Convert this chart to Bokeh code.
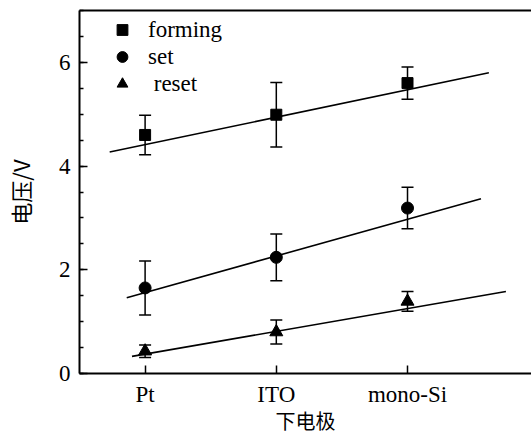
from bokeh.plotting import figure
from bokeh.models import (ColumnDataSource, Whisker, TeeHead, FixedTicker,
                          Legend, LegendItem, Range1d, LinearAxis)
from bokeh.embed import file_html
from bokeh.resources import INLINE

# ---- data ----
categories = ["Pt", "ITO", "mono-Si"]
xpos = [1, 2, 3]

forming = [4.60, 4.99, 5.60]
forming_err = [0.38, 0.62, 0.31]
set_v = [1.65, 2.24, 3.19]
set_err = [0.52, 0.45, 0.40]
reset = [0.43, 0.80, 1.39]
reset_err = [0.12, 0.23, 0.19]

forming_fit_x = [0.73, 3.62]
forming_fit_y = [4.27, 5.80]
set_fit_x = [0.86, 3.56]
set_fit_y = [1.46, 3.37]
reset_fit_x = [0.90, 3.75]
reset_fit_y = [0.33, 1.58]

y_ticks = [0, 2, 4, 6]

SERIF = "Liberation Serif"
CJK = "Noto Sans CJK SC"

p = figure(width=531, height=437, output_backend="svg", toolbar_location=None,
           x_range=Range1d(0.5, 3.945), y_range=Range1d(0, 7),
           min_border_left=78, min_border_right=0, min_border_top=10,
           min_border_bottom=62)
p.outline_line_color = None
p.grid.visible = False
p.background_fill_color = "white"
p.border_fill_color = "white"

# top border as a bare axis
top = LinearAxis(ticker=FixedTicker(ticks=[]), axis_line_width=2, axis_line_color="black",
                 major_tick_line_color=None, minor_tick_line_color=None,
                 major_label_standoff=0,
                 major_tick_in=0, major_tick_out=0, minor_tick_in=0, minor_tick_out=0)
p.add_layout(top, "above")

xa = p.below[0]
ya = p.left[0]
xa.ticker = FixedTicker(ticks=xpos)
xa.major_label_overrides = {x: c for x, c in zip(xpos, categories)}
ya.ticker = FixedTicker(ticks=y_ticks, minor_ticks=[i * 0.5 for i in range(15)])
for ax in (xa, ya):
    ax.axis_line_width = 2
    ax.axis_line_color = "black"
    ax.major_tick_in = 8
    ax.major_tick_out = 0
    ax.minor_tick_in = 4
    ax.minor_tick_out = 0
    ax.major_tick_line_width = 1.5
    ax.minor_tick_line_width = 1.5
    ax.major_label_text_font = SERIF
    ax.major_label_text_font_size = "23px"
    ax.major_label_text_color = "black"
    ax.axis_label_text_font = CJK
    ax.axis_label_text_font_size = "20px"
    ax.axis_label_text_font_style = "normal"
    ax.axis_label_text_color = "black"
xa.minor_tick_line_color = None
xa.major_label_standoff = 8
ya.major_label_standoff = 9
xa.axis_label = "下电极"
ya.axis_label = "电压/V"
xa.axis_label_standoff = -4
ya.axis_label_standoff = 20
ya.axis_label_text_font_size = "22px"

# fit lines
for fx, fy in ((forming_fit_x, forming_fit_y), (set_fit_x, set_fit_y), (reset_fit_x, reset_fit_y)):
    p.line(fx, fy, line_color="black", line_width=1.6)

renderers = []
for vals, errs, marker, size in ((forming, forming_err, "square", 11),
                                 (set_v, set_err, "circle", 12),
                                 (reset, reset_err, "triangle", 13)):
    src = ColumnDataSource(dict(x=xpos, y=vals,
                                upper=[v + e for v, e in zip(vals, errs)],
                                lower=[v - e for v, e in zip(vals, errs)]))
    w = Whisker(base="x", upper="upper", lower="lower", source=src,
                line_color="black", line_width=1.5,
                upper_head=TeeHead(size=12, line_color="black", line_width=1.5),
                lower_head=TeeHead(size=12, line_color="black", line_width=1.5))
    p.add_layout(w)
    r = p.scatter("x", "y", source=src, marker=marker, size=size,
                  fill_color="black", line_color="black")
    renderers.append(r)

legend = Legend(items=[LegendItem(label="forming", renderers=[renderers[0]]),
                       LegendItem(label="set", renderers=[renderers[1]]),
                       LegendItem(label=" reset", renderers=[renderers[2]])],
                location=(29, 276), orientation="vertical",
                glyph_width=28, glyph_height=27, label_height=27,
                label_standoff=12, spacing=0, padding=0, margin=0,
                border_line_color=None, background_fill_alpha=0,
                label_text_font=SERIF, label_text_font_size="23px",
                label_text_color="black")
p.add_layout(legend)

open("out.html", "w").write(file_html(p, INLINE))
